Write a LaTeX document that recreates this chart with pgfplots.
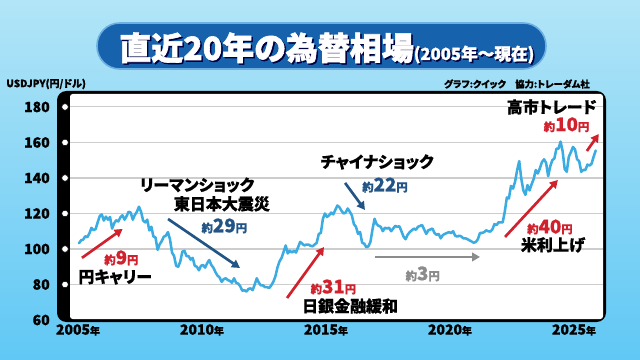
\documentclass[border=0pt]{standalone}
\usepackage{fontspec}
\setmainfont{Noto Sans CJK JP}[RawFeature=+palt, BoldFeatures={FakeBold=0.8}]
\newfontfamily\heavy{Noto Sans CJK JP}[RawFeature=+palt, BoldFeatures={FakeBold=1.8}]
\usepackage{pgfplots}
\pgfplotsset{compat=1.18}
\usepackage{pgfplotstable}
\usetikzlibrary{arrows.meta}
\definecolor{bgtop}{RGB}{178,229,247}
\definecolor{bgbot}{RGB}{96,200,245}
\definecolor{banner}{RGB}{22,98,172}
\definecolor{bannerrim}{RGB}{110,175,225}
\definecolor{fxline}{RGB}{58,172,226}
\definecolor{jred}{RGB}{208,33,45}
\definecolor{jblue}{RGB}{34,84,134}
\definecolor{jgrey}{RGB}{140,140,140}
\definecolor{gridc}{RGB}{205,205,205}
\newcommand{\yr}[1]{{\bfseries\fontsize{10.5}{11}\selectfont #1}{\bfseries\fontsize{7.5}{8}\selectfont 年}}
\newcommand{\yen}[1]{{\fontsize{8.5}{9}\selectfont 約}{\fontsize{14}{14}\selectfont #1}{\fontsize{8.5}{9}\selectfont 円}}
\newcommand{\lab}{\bfseries\fontsize{12}{13}\selectfont}
\pgfplotstableread{
v
103.3
104.9
105.3
107.2
106.6
108.8
111.9
110.6
111.2
114.9
118.5
119.5
116.0
118.2
116.5
118.0
111.5
114.5
116.2
115.5
117.8
119.0
116.5
118.5
121.0
120.5
116.5
119.2
121.0
123.8
121.0
116.0
115.0
116.5
110.5
112.5
107.0
106.5
99.5
102.6
104.4
106.9
107.5
109.5
105.5
98.0
96.0
90.5
90.0
93.0
98.5
99.0
96.0
96.0
94.0
95.0
90.5
90.0
88.0
90.5
91.0
89.5
92.0
93.8
91.0
89.5
87.0
85.0
84.0
81.5
83.0
83.5
82.5
82.0
81.0
83.5
81.0
80.5
79.0
76.5
76.8
76.0
77.5
77.8
76.8
80.0
83.5
81.0
79.5
79.5
78.5
78.5
78.0
79.5
81.5
84.5
89.5
93.0
95.0
98.5
102.0
97.5
99.0
98.0
99.0
98.0
101.0
104.0
103.0
102.0
102.5
102.5
101.8
101.5
102.5
103.5
108.5
109.0
117.0
120.0
118.0
119.0
120.5
119.5
122.0
124.5
123.5
121.5
120.0
120.5
122.8
121.0
119.0
114.0
112.5
108.5
109.5
103.5
103.0
101.0
101.5
104.0
111.0
117.0
114.0
113.0
112.5
110.0
112.0
111.5
112.0
110.0
111.5
113.0
112.5
112.8
110.0
107.0
105.5
108.0
109.5
110.5
111.5
110.8
112.5
113.0
113.5
111.0
108.5
110.5
111.0
111.5
109.0
108.0
108.5
106.0
107.8
108.5
109.0
109.5
109.0
110.0
107.5
107.0
107.5
107.0
106.0
106.0
105.5
104.8
104.2
103.5
104.0
105.5
109.0
109.0
109.5
110.5
110.0
109.8
111.0
114.0
113.5
115.0
115.0
115.0
121.0
129.0
128.5
135.5
134.0
138.0
144.5
149.5
139.5
133.0
130.5
136.0
133.0
136.5
139.5
144.5
142.5
145.5
149.0
150.5
148.5
141.0
146.5
150.0
151.0
156.5
156.5
160.5
155.0
145.0
143.5
152.0
154.5
157.5
156.0
150.5
149.5
143.5
144.5
144.5
147.5
147.0
148.0
152.0
155.5
}\fxdata
\begin{document}
\begin{tikzpicture}
\begin{scope}[x=0.75pt,y=-0.75pt]
\path[use as bounding box] (0,0) rectangle (640,360);
\shade[top color=bgtop, bottom color=bgbot] (0,0) rectangle (640,360);
% title banner
\fill[banner, draw=bannerrim, line width=1.2pt, rounded corners=17pt] (97,23) rectangle (546,69);
\node[anchor=base west, inner sep=0pt, text=black!75!blue] at (120.5,61.5)
  {\heavy\bfseries{\fontsize{24}{26}\selectfont 直近20年の為替相場}{\fontsize{12.5}{13}\selectfont (2005年〜現在)}};
\node[anchor=base west, inner sep=0pt, text=white] at (119,60)
  {\heavy\bfseries{\fontsize{24}{26}\selectfont 直近20年の為替相場}{\fontsize{12.5}{13}\selectfont (2005年〜現在)}};
% header texts
\node[anchor=west, inner sep=0pt] at (6,84) {\bfseries\fontsize{7.5}{8}\selectfont USDJPY(円/ドル)};
\node[anchor=east, inner sep=0pt] at (590,84) {\bfseries\fontsize{7}{8}\selectfont グラフ:クイック\quad 協力:トレーダム社};
% panel
\fill[black, rounded corners=7pt] (57,91) rectangle (606,322);
\fill[white, rounded corners=2pt] (70,94) rectangle (603,319);
\end{scope}
\begin{axis}[
  at={(52.5pt,-240pt)}, anchor=south west,
  width=399.75pt, height=169.5pt, scale only axis,
  xmin=2004.677, xmax=2026.169, ymin=60, ymax=187.3,
  axis line style={draw=none}, tick style={draw=none},
  ytick={80,100,...,180}, yticklabels={80,100,120,140,160,180},
  extra y ticks={60}, extra y tick labels={60}, extra y tick style={grid=none},
  ymajorgrids, grid style={gridc, line width=0.8pt},
  xtick={2005,2010,2015,2020,2025},
  xticklabels={\yr{2005},\yr{2010},\yr{2015},\yr{2020},\yr{2025}},
  yticklabel style={font=\bfseries\fontsize{10.5}{11}\selectfont, inner sep=0pt, anchor=east, xshift=-15pt},
  xticklabel style={inner sep=0pt, anchor=north, yshift=-3pt},
  clip=false,
]
\addplot[only marks, mark=*, mark size=2.5pt, mark options={draw=none, fill=white}]
  coordinates {(2004.476,80) (2004.476,100) (2004.476,120) (2004.476,140) (2004.476,160) (2004.476,180)};
\addplot[fxline, line width=1.9pt, line join=round, line cap=round]
  table[x expr={2005+\coordindex/12+1/24}, y=v] {\fxdata};
% yen carry
\draw[jred, line width=2pt, -{Triangle[length=6pt,width=6.5pt]}] (axis cs:2005.16,95) -- (axis cs:2006.8,111.3);
\node[text=jred, font=\bfseries] at (axis cs:2006.75,95) {\yen{9}};
\node[font=\lab] at (axis cs:2006.5,84.2) {円キャリー};
% lehman
\node[font=\lab] at (axis cs:2009.8,136) {リーマンショック};
\node[font=\lab] at (axis cs:2010.8,125.4) {東日本大震災};
\node[text=jblue, font=\bfseries] at (axis cs:2010.9,113) {\yen{29}};
\draw[jblue, line width=2pt, -{Triangle[length=6pt,width=6.5pt]}] (axis cs:2008.63,116.9) -- (axis cs:2011.53,89.3);
% BOJ
\draw[jred, line width=2pt, -{Triangle[length=6pt,width=6.5pt]}] (axis cs:2013.43,72.4) -- (axis cs:2014.92,101.1);
\node[text=jred, font=\bfseries] at (axis cs:2015.3,78.6) {\yen{31}};
\node[font=\lab] at (axis cs:2015.97,67.9) {日銀金融緩和};
% china
\node[font=\lab] at (axis cs:2017.06,149) {チャイナショック};
\node[text=jblue, font=\bfseries] at (axis cs:2017.38,136) {\yen{22}};
\draw[jblue, line width=2pt, -{Triangle[length=6pt,width=6.5pt]}] (axis cs:2015.77,137.2) -- (axis cs:2016.57,122);
% flat
\draw[jgrey, line width=2pt, -{Triangle[length=6pt,width=6.5pt]}] (axis cs:2016.98,95.5) -- (axis cs:2021.21,95.5);
\node[text=jgrey, font=\bfseries] at (axis cs:2018.9,86) {\yen{3}};
% US hikes
\draw[jred, line width=2pt, -{Triangle[length=6pt,width=6.5pt]}] (axis cs:2022.22,106.8) -- (axis cs:2024.35,138.9);
\node[text=jred, font=\bfseries] at (axis cs:2024.03,112.4) {\yen{40}};
\node[font=\lab] at (axis cs:2024.15,102.3) {米利上げ};
% takaichi
\node[font=\lab] at (axis cs:2024.1,180) {高市トレード};
\node[text=jred, font=\bfseries] at (axis cs:2024.7,170) {\yen{10}};
\draw[jred, line width=2pt, -{Triangle[length=6pt,width=6.5pt]}] (axis cs:2025.52,155.2) -- (axis cs:2026.0,164.8);
\end{axis}
\end{tikzpicture}
\end{document}
